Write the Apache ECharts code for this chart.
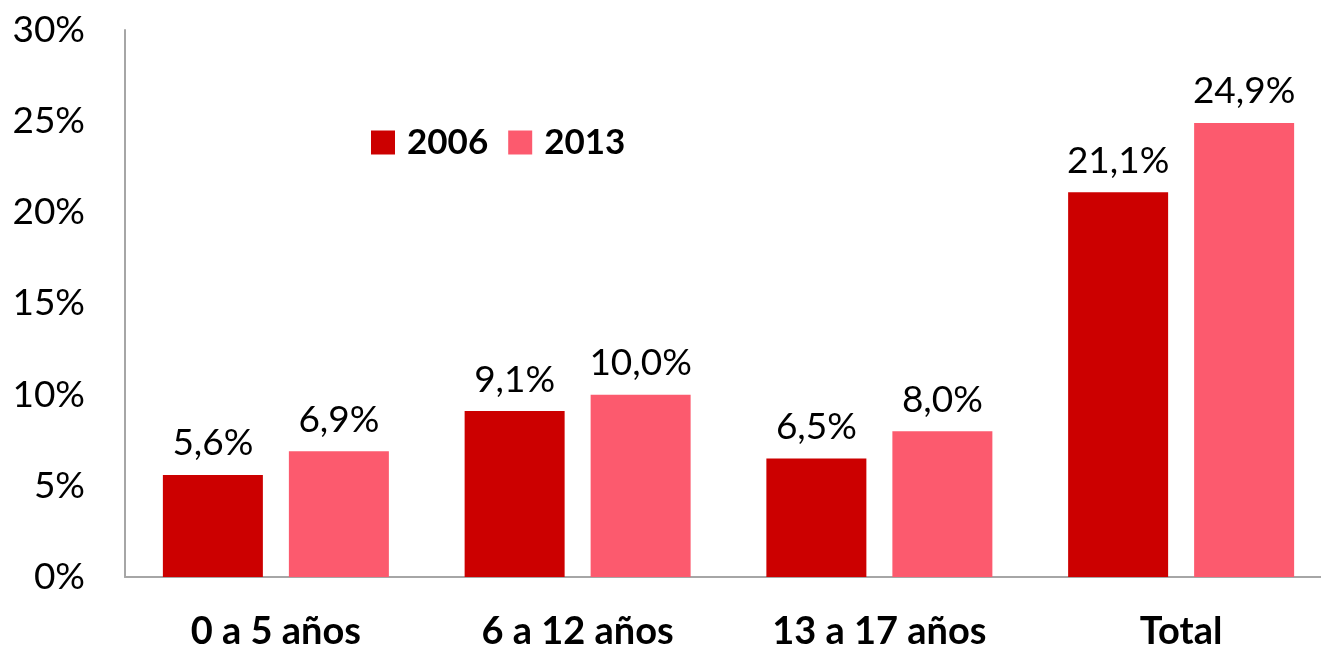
<!DOCTYPE html>
<html>
<head>
<meta charset="utf-8">
<script src="https://cdn.jsdelivr.net/npm/echarts@6/dist/echarts.min.js"></script>
<style>html,body{margin:0;padding:0;background:#fff}#c{width:1321px;height:648px}</style>
</head>
<body>
<div id="c"></div>
<script>
var categories = ['0 a 5 años', '6 a 12 años', '13 a 17 años', 'Total'];
var seriesNames = ['2006', '2013'];
var values2006 = [5.6, 9.1, 6.5, 21.1];
var values2013 = [6.9, 10.0, 8.0, 24.9];
var yTicks = [0, 5, 10, 15, 20, 25, 30];

function fmt(v) { return v.toFixed(1).replace('.', ',') + '%'; }

var chart = echarts.init(document.getElementById('c'));
var labelStyle = {
  show: true, position: 'top', distance: 13,
  fontFamily: 'Lato', fontSize: 37, color: '#000',
  formatter: function (p) { return fmt(p.value); }
};
chart.setOption({
  animation: false,
  grid: { left: 125, top: 30, width: 1207, height: 547, containLabel: false, outerBoundsMode: 'none' },
  legend: {
    left: 366, top: 120, itemWidth: 24, itemHeight: 24, itemGap: 20, icon: 'rect',
    textStyle: { fontFamily: 'Lato', fontWeight: 'bold', fontSize: 35, color: '#000', padding: [0, 0, 0, 7] },
    data: seriesNames
  },
  xAxis: {
    type: 'category', data: categories,
    axisLine: { lineStyle: { color: '#A6A6A6', width: 2 } },
    axisTick: { show: false },
    axisLabel: { margin: 36, fontFamily: 'Lato', fontWeight: 'bold', fontSize: 38, color: '#000' }
  },
  yAxis: {
    type: 'value', min: 0, max: 30, interval: 5,
    axisLine: { show: true, lineStyle: { color: '#A6A6A6', width: 2 } },
    axisTick: { show: false },
    splitLine: { show: false },
    axisLabel: { margin: 40, fontFamily: 'Lato', fontSize: 37, color: '#000',
      formatter: function (v) { return yTicks.indexOf(v) >= 0 ? v + '%' : ''; } }
  },
  series: [
    { name: seriesNames[0], type: 'bar', data: values2006, barWidth: 100, barGap: '26%',
      itemStyle: { color: '#CC0000' }, label: labelStyle },
    { name: seriesNames[1], type: 'bar', data: values2013, barWidth: 100, barGap: '26%',
      itemStyle: { color: '#FC5A6E' }, label: labelStyle }
  ]
});
</script>
</body>
</html>
